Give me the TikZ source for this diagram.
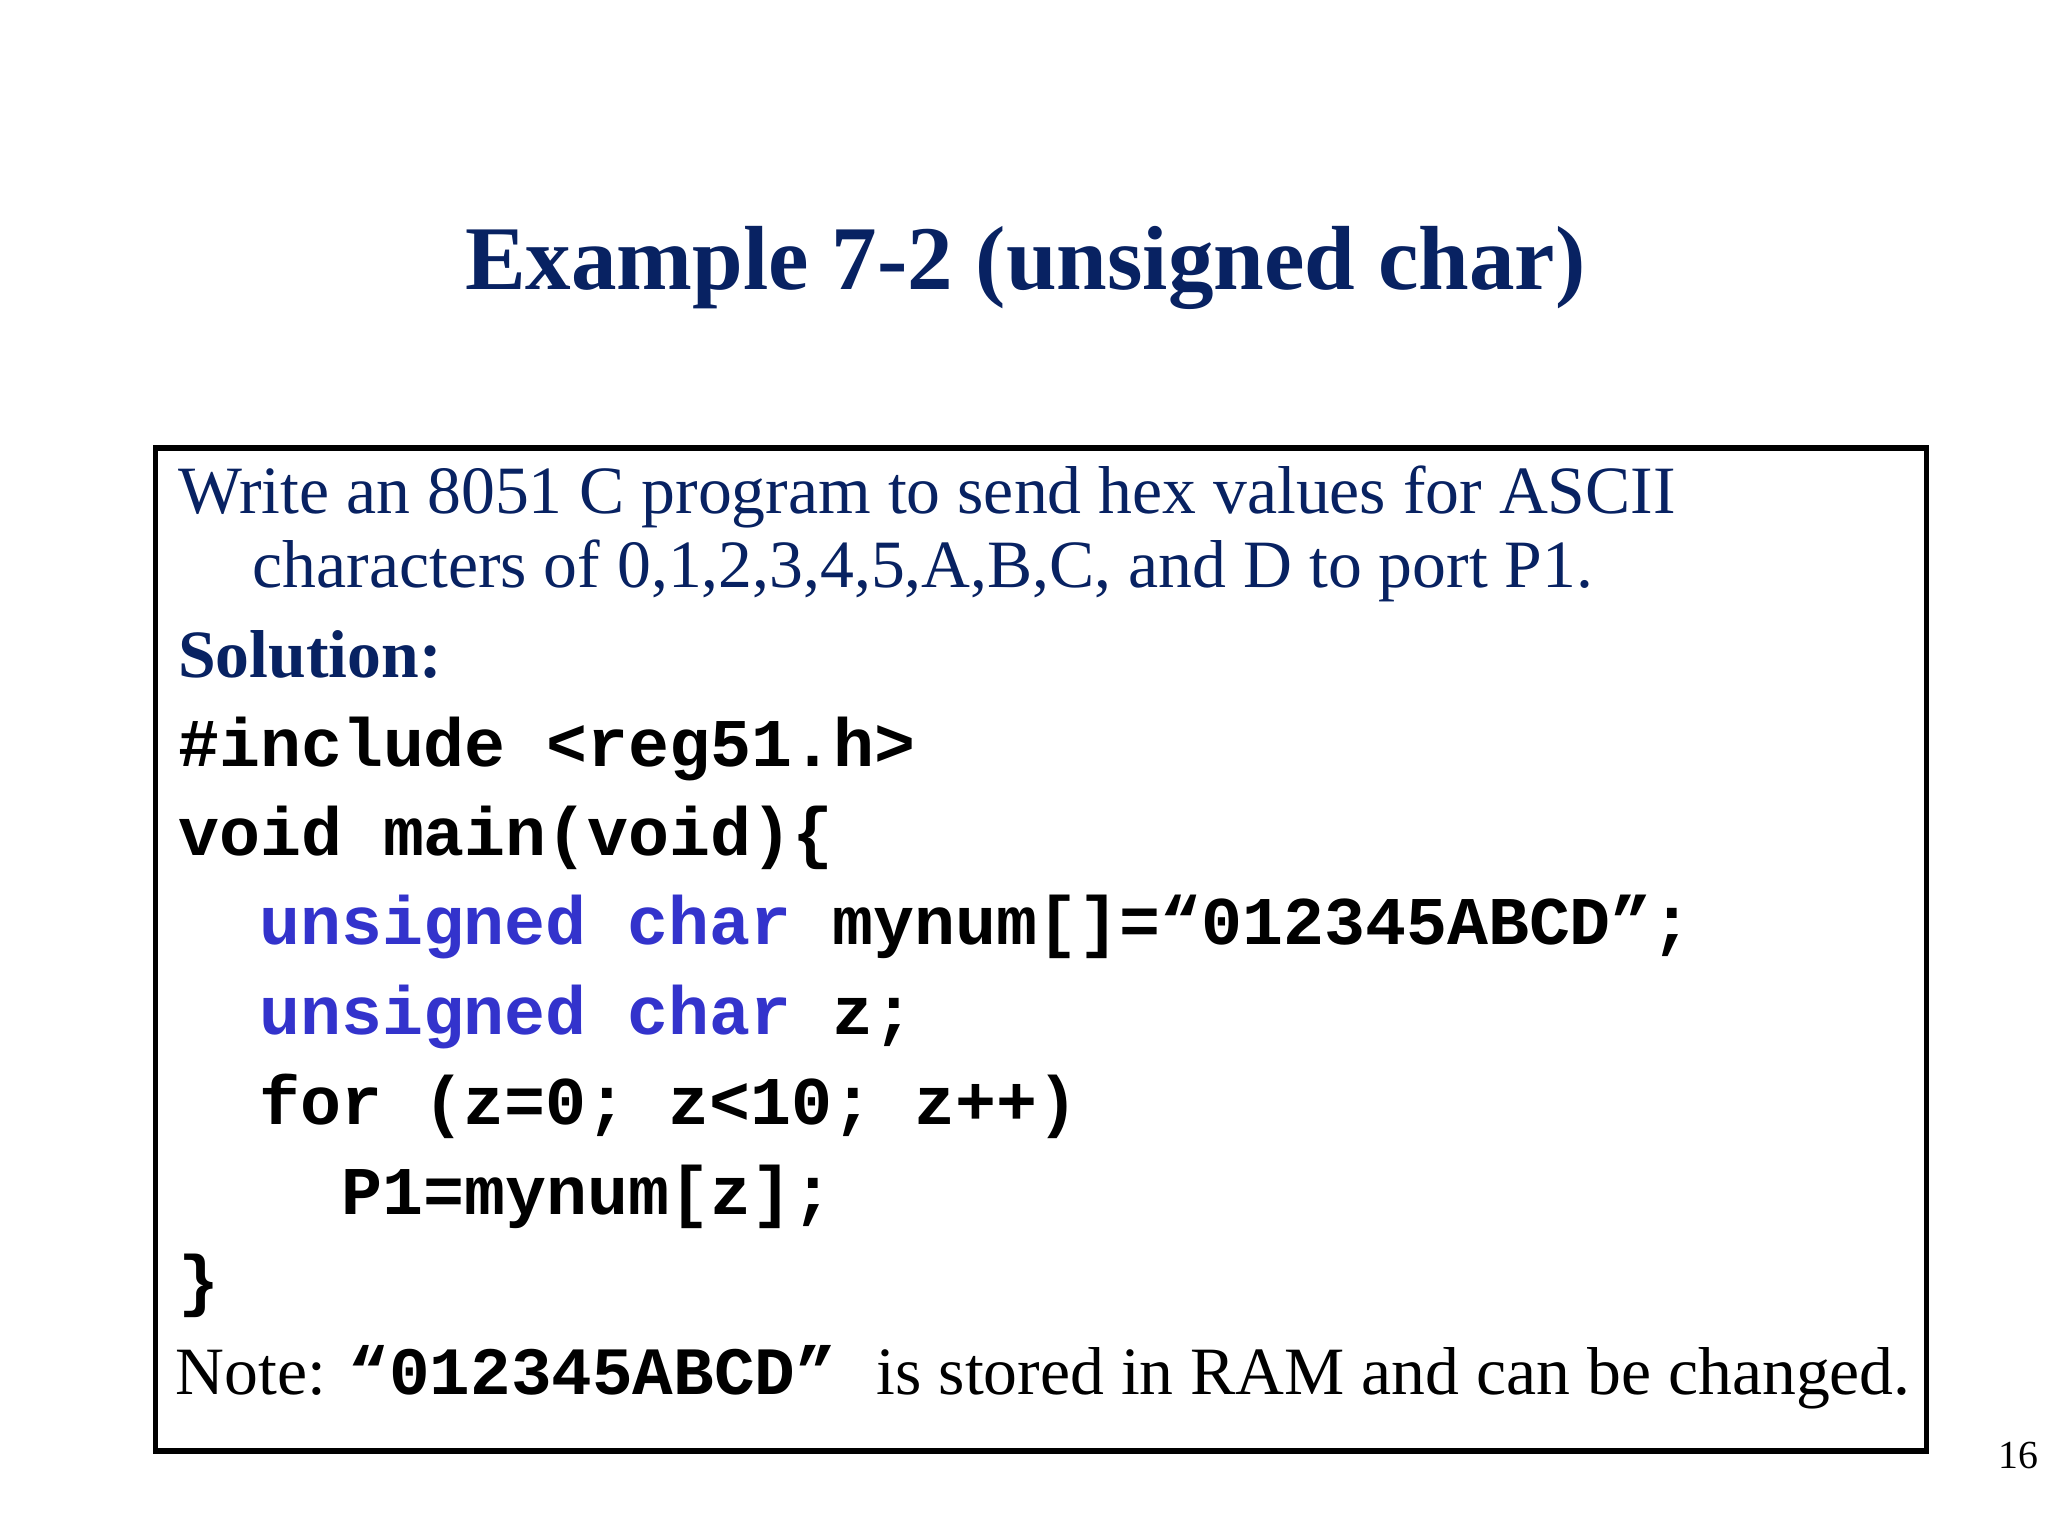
\documentclass[tikz,border=0pt]{standalone}
\usepackage{fontspec}
\setmainfont{Liberation Serif}
\setmonofont{Liberation Mono}
\usepackage{tikz}
\usepackage{xcolor}
\definecolor{navy}{RGB}{8,34,98}
\definecolor{kwblue}{RGB}{51,51,204}
\tikzset{
  slidetitle/.style={navy, inner sep=0, anchor=base, font=\fontsize{32}{36}\selectfont\bfseries},
  bodytext/.style={navy, inner sep=0, anchor=base west, font=\fontsize{23.8}{28}\selectfont},
  codeline/.style={black, inner sep=0, anchor=base west, font=\fontsize{24}{28}\selectfont\ttfamily\bfseries},
}
\newcommand{\kw}[1]{\textcolor{kwblue}{#1}}
\begin{document}
\begin{tikzpicture}[x=0.45918pt, y=-0.45918pt]
    \useasboundingbox (0,0) rectangle (1568,1176);
    % title
    \node[slidetitle] (title) at (785,222) {Example 7-2 (unsigned char)};
    % frame
    \draw[line width=2pt] (119,343) rectangle (1475,1111);
    % question
    \node[bodytext] (ask1) at (136,393) {Write an 8051 C program to send hex values for ASCII};
    \node[bodytext] (ask2) at (193,450) {characters of 0,1,2,3,4,5,A,B,C, and D to port P1.};
    \node[bodytext, font=\fontsize{23.8}{28}\selectfont\bfseries] (sol) at (136,519) {Solution:};
    % code
    \node[codeline] (inc)  at (136,587) {\#include <reg51.h>};
    \node[codeline] (main) at (136,655) {void main(void)\{};
    \node[codeline] (arr)  at (198,723) {\kw{unsigned char} mynum[]=“012345ABCD”;};
    \node[codeline] (zvar) at (198,792) {\kw{unsigned char} z;};
    \node[codeline] (loop) at (198,861) {for (z=0; z<10; z++)};
    \node[codeline] (put)  at (261,930) {P1=mynum[z];};
    \node[codeline] (close) at (136,998) {\}};
    % note
    \node[bodytext, black] (note) at (134,1068) {Note: {\ttfamily\bfseries\fontsize{23.8}{28}\selectfont “012345ABCD”\ }is stored in RAM and can be changed.};
    % page number
    \node[inner sep=0, anchor=base east, font=\fontsize{14}{16}\selectfont] (page) at (1561,1124) {16};
\end{tikzpicture}
\end{document}
